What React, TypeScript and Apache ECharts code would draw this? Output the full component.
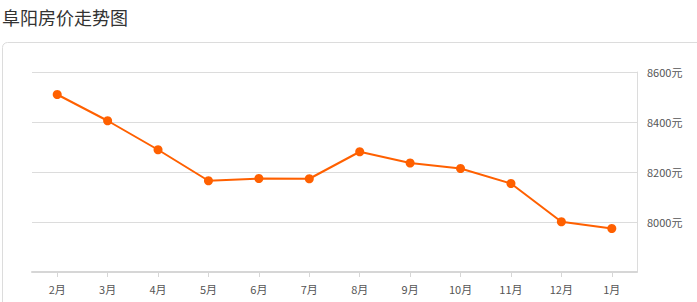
import React, { useEffect, useRef } from "react";
import * as echarts from "echarts";

const months = ["2月", "3月", "4月", "5月", "6月", "7月", "8月", "9月", "10月", "11月", "12月", "1月"];
const prices = [8510, 8405, 8289, 8165, 8174, 8173, 8281, 8236, 8214, 8154, 8001, 7974];
const yMin = 7800;
const yMax = 8600;
const yStep = 200;

export default function App() {
  const ref = useRef<HTMLDivElement>(null);
  useEffect(() => {
    document.body.style.margin = "0";
    const chart = echarts.init(ref.current!, null, { renderer: "svg" });
    const font = "'Microsoft YaHei', 'Noto Sans CJK SC', sans-serif";
    chart.setOption({
      animation: false,
      backgroundColor: "#fff",
      title: {
        text: "阜阳房价走势图",
        left: -3,
        top: 3,
        textStyle: { fontSize: 18, fontWeight: "normal", color: "#333", fontFamily: font },
      },
      graphic: [
        {
          type: "rect",
          shape: { x: 2.5, y: 42.5, width: 720, height: 300, r: 5 },
          style: { fill: "none", stroke: "#dcdcdc", lineWidth: 1 },
          silent: true,
        },
      ],
      grid: { left: 32, right: 60, top: 72, bottom: 30, containLabel: false },
      xAxis: {
        type: "category",
        data: months,
        boundaryGap: true,
        axisLine: { show: true, lineStyle: { color: "#d6d6d6", width: 2 } },
        axisTick: { show: true, alignWithLabel: true, length: 5, lineStyle: { color: "#d6d6d6" } },
        axisLabel: { color: "#555", fontSize: 11, margin: 11, fontFamily: font },
        splitLine: { show: false },
      },
      yAxis: {
        type: "value",
        position: "right",
        min: yMin,
        max: yMax,
        interval: yStep,
        axisLine: { show: true, lineStyle: { color: "#dcdcdc", width: 1 } },
        axisTick: { show: false },
        axisLabel: {
          color: "#555",
          fontSize: 11,
          margin: 10,
          fontFamily: font,
          showMinLabel: false,
          formatter: (v: number) => `${v}元`,
        },
        splitLine: { show: true, lineStyle: { color: "#dcdcdc", width: 1 } },
      },
      series: [
        {
          type: "line",
          data: prices,
          symbol: "circle",
          symbolSize: 9,
          lineStyle: { color: "#ff6000", width: 2 },
          itemStyle: { color: "#ff6000" },
        },
      ],
    });
    return () => chart.dispose();
  }, []);
  return <div ref={ref} style={{ width: 697, height: 302 }} />;
}
